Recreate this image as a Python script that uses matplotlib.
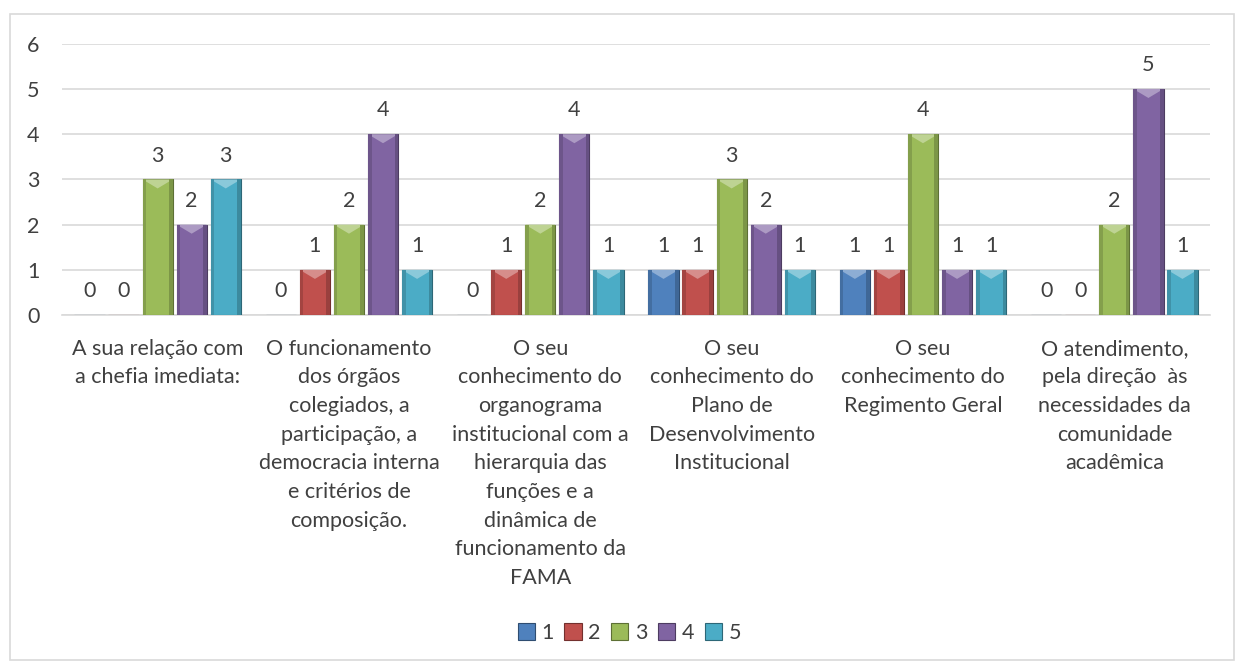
import numpy as np
import matplotlib.pyplot as plt
from matplotlib.patches import Polygon, Rectangle
from matplotlib.colors import to_rgb

plt.rcParams['font.family'] = ['Lato', 'DejaVu Sans']

categories = [
    "A sua relação com\na chefia imediata:",
    "O funcionamento\ndos órgãos\ncolegiados, a\nparticipação, a\ndemocracia interna\ne critérios de\ncomposição.",
    "O seu\nconhecimento do\norganograma\ninstitucional com a\nhierarquia das\nfunções e a\ndinâmica de\nfuncionamento da\nFAMA",
    "O seu\nconhecimento do\nPlano de\nDesenvolvimento\nInstitucional",
    "O seu\nconhecimento do\nRegimento Geral",
    "O atendimento,\npela direção  às\nnecessidades da\ncomunidade\nacadêmica",
]
series_names = ["1", "2", "3", "4", "5"]
s1 = [0, 0, 0, 1, 1, 0]
s2 = [0, 1, 1, 1, 1, 0]
s3 = [3, 2, 2, 3, 4, 2]
s4 = [2, 4, 4, 2, 1, 5]
s5 = [3, 1, 1, 1, 1, 1]
colors = ["#4F81BD", "#C0504D", "#9BBB59", "#8064A2", "#4BACC6"]

def shade(c, f):
    r, g, b = to_rgb(c)
    if f > 1:
        return (r + (1 - r) * (f - 1), g + (1 - g) * (f - 1), b + (1 - b) * (f - 1))
    return (r * f, g * f, b * f)

fig = plt.figure(figsize=(12.39, 6.62), dpi=100)
ax = fig.add_axes([0.05, 0.524, 0.9266, 0.41])
fig.patches.append(Rectangle((0.008, 0.003), 0.988, 0.976, transform=fig.transFigure,
                             fill=False, edgecolor="#d9d9d9", lw=1.2))

fs = 15.5
x = np.arange(len(categories))
step = 0.178
width = 0.158
for i, (vals, c) in enumerate(zip([s1, s2, s3, s4, s5], colors)):
    pos = x + (i - 2) * step
    bars = ax.bar(pos, vals, width, color=c, edgecolor=shade(c, 0.6), lw=0.8,
                  label=series_names[i], zorder=3)
    for b in bars:
        h = b.get_height()
        bx, bw = b.get_x(), b.get_width()
        if h > 0:
            t = min(0.2, h / 2)
            ax.add_patch(Polygon([(bx, h), (bx + bw, h), (bx + bw / 2, h - t)],
                                 closed=True, color=shade(c, 1.35), lw=0, zorder=4))
            ax.add_patch(Rectangle((bx, 0), bw * 0.12, h, color=shade(c, 0.85), lw=0, zorder=4))
            ax.add_patch(Rectangle((bx + bw * 0.88, 0), bw * 0.12, h, color=shade(c, 0.8), lw=0, zorder=4))
        ax.annotate(str(int(h)), (bx + bw / 2, h), xytext=(0, 10), textcoords="offset points",
                    ha="center", va="bottom", fontsize=fs, color="#404040")

ax.set_xlim(-0.5, len(categories) - 0.5)
ax.set_ylim(0, 6)
ax.set_yticks(range(7))
ax.yaxis.grid(True, color="#d9d9d9", lw=1.2, zorder=0)
ax.set_axisbelow(True)
for s in ["top", "right", "left"]:
    ax.spines[s].set_visible(False)
ax.spines["bottom"].set_color("#d9d9d9")
ax.spines["bottom"].set_linewidth(1.2)
ax.tick_params(axis="both", length=0, labelsize=fs, colors="#404040")
ax.tick_params(axis="y", pad=16)
ax.set_xticks(x)
ax.set_xticklabels(categories, linespacing=1.54, va="top")
ax.tick_params(axis="x", pad=17)

handles, labels = ax.get_legend_handles_labels()
fig.legend(handles, labels, loc="center", bbox_to_anchor=(0.508, 0.044), ncol=5, frameon=False,
           fontsize=fs, handlelength=0.8, handleheight=0.8, handletextpad=0.3, columnspacing=0.5,
           labelcolor="#404040")

fig.savefig("out.png", dpi=100)
